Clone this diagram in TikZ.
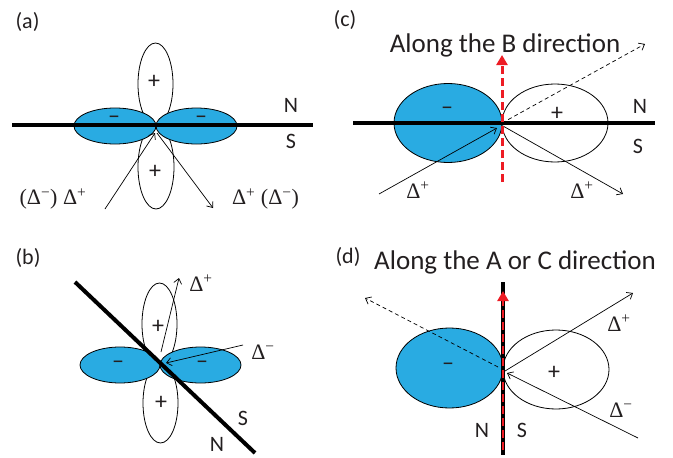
\documentclass[tikz,border=0pt]{standalone}
\usepackage{fontspec}
\setmainfont{Carlito}
\newfontfamily\gapfont{Liberation Serif}
\usetikzlibrary{arrows.meta,shapes.geometric,calc}
\definecolor{lobeblue}{HTML}{29ABE2}
\definecolor{fieldred}{HTML}{ED1C24}
\definecolor{inkgray}{HTML}{231F20}
\newcommand{\gapp}{Δ\textsuperscript{+}}
\newcommand{\gapm}{Δ\textsuperscript{−}}

\begin{document}
\begin{tikzpicture}[x=1pt,y=-1pt,>={Straight Barb[length=5pt,width=8pt]},
 lobe/.style={ellipse,draw,line width=0.8pt,fill=white,inner sep=0pt},
 blobe/.style={lobe,fill=lobeblue},
 wall/.style={line width=4pt},
 ray/.style={->,line width=0.7pt},
 ghost/.style={->,line width=0.7pt,dash pattern=on 4pt off 3pt},
 field/.style={fieldred,line width=3pt,dash pattern=on 8pt off 4pt,
  -{Triangle[length=10pt,width=11pt]}},
 tag/.style={text=inkgray,font=\fontsize{22}{26}\selectfont},
 side/.style={text=inkgray,font=\fontsize{22}{26}\selectfont},
 sign/.style={text=inkgray,font=\fontsize{24}{28}\selectfont},
 gap/.style={text=inkgray,font=\gapfont\fontsize{22}{26}\selectfont},
 title/.style={text=inkgray,font=\fontsize{27}{32}\selectfont}]
\useasboundingbox (0,0) rectangle (673,458);

% (a)
\node[tag] (aTag) at (27.5,22) {(a)};
\node[lobe,minimum width=35pt,minimum height=82pt] (aUp) at (155.5,84) {};
\node[lobe,minimum width=36pt,minimum height=84pt] (aDown) at (156,167) {};
\node[blobe,minimum width=82pt,minimum height=36pt] (aLeft) at (115,126) {};
\node[blobe,minimum width=81pt,minimum height=36pt] (aRight) at (196.5,126) {};
\coordinate (aW) at (12,125);
\coordinate (aE) at (313,125);
\draw[wall] (aW) -- (aE);
\node[sign] (aM1) at (114,120) {–};
\node[sign] (aM2) at (201,120) {–};
\node[sign] (aP1) at (154,82) {+};
\node[sign] (aP2) at (155,172) {+};
\node[side] (aN) at (291,105) {N};
\node[side] (aS) at (291,141) {S};
\coordinate (aIn) at (105,209);
\coordinate (aTip) at (155,133);
\coordinate (aFrom) at (157,133);
\coordinate (aOut) at (213,208);
\draw[ray] (aIn) -- (aTip);
\draw[ray] (aFrom) -- (aOut);
\node[gap] (aG1) at (53,199) {(\gapm) \gapp};
\node[gap] (aG2) at (265.5,199) {\gapp{} (\gapm)};

% (b)
\node[tag] (bTag) at (28,257.5) {(b)};
\node[lobe,minimum width=35pt,minimum height=82pt] (bUp) at (159.5,324) {};
\node[lobe,minimum width=35pt,minimum height=80pt] (bDown) at (160.5,403) {};
\node[blobe,minimum width=80pt,minimum height=36pt] (bLeft) at (120,365) {};
\node[blobe,minimum width=81pt,minimum height=36pt] (bRight) at (200.5,365) {};
\coordinate (bNW) at (75,282);
\coordinate (bSE) at (255,453);
\draw[wall] (bNW) -- (bSE);
\node[sign] (bM1) at (118,365) {–};
\node[sign] (bM2) at (202,365) {–};
\node[sign] (bP1) at (158,327) {+};
\node[sign] (bP2) at (161,403) {+};
\node[side] (bS) at (243,418) {S};
\node[side] (bN) at (217,444) {N};
\coordinate (bFrom) at (161,352);
\coordinate (bOut) at (179,278);
\coordinate (bIn) at (243,345);
\coordinate (bTip) at (166,363);
\draw[ray] (bFrom) -- (bOut);
\draw[ray] (bIn) -- (bTip);
\node[gap] (bG1) at (201,283) {\gapp};
\node[gap] (bG2) at (263,352) {\gapm};

% (c)
\node[tag] (cTag) at (345,20) {(c)};
\node[title] (cTitle) at (505,45.5) {Along the B direction};
\node[blobe,minimum width=108pt,minimum height=79pt] (cLeft) at (448,123) {};
\node[lobe,minimum width=106pt,minimum height=78pt] (cRight) at (555,123) {};
\coordinate (cW) at (353,123);
\coordinate (cE) at (655,123);
\draw[wall] (cW) -- (cE);
\node[sign] (cM) at (447,111) {–};
\node[sign] (cP) at (557,114) {+};
\node[side] (cN) at (640,106) {N};
\node[side] (cS) at (638,146) {S};
\coordinate (cO) at (502,123);
\coordinate (cFar) at (645,44);
\draw[ghost] (cO) -- (cFar);
\coordinate (cIn) at (379,194);
\coordinate (cTip) at (497,128);
\coordinate (cFrom) at (503,126);
\coordinate (cOut) at (623,194);
\draw[ray] (cIn) -- (cTip);
\draw[ray] (cFrom) -- (cOut);
\coordinate (cBot) at (502,182);
\coordinate (cTop) at (502,55);
\draw[field] (cBot) -- (cTop);
\node[gap] (cG1) at (418,190) {\gapp};
\node[gap] (cG2) at (582,190) {\gapp};

% (d)
\node[tag] (dTag) at (348,257) {(d)};
\node[title] (dTitle) at (515,262) {Along the A or C direction};
\node[blobe,minimum width=107pt,minimum height=80pt] (dLeft) at (449.5,368) {};
\node[lobe,minimum width=106pt,minimum height=79pt] (dRight) at (556,369.5) {};
\coordinate (dTop) at (503,282);
\coordinate (dBot) at (503,455);
\draw[wall] (dTop) -- (dBot);
\coordinate (dBase) at (503,450);
\coordinate (dHead) at (503,291);
\draw[field,line width=2.5pt] (dBase) -- (dHead);
\node[sign] (dM) at (448,367) {–};
\node[sign] (dP) at (554,373) {+};
\node[side] (dN) at (482,430) {N};
\node[side] (dS) at (522,430) {S};
\coordinate (dO) at (498,367);
\coordinate (dFar) at (365,298);
\draw[ghost] (dO) -- (dFar);
\coordinate (dFrom) at (505,371);
\coordinate (dOut) at (633,293);
\coordinate (dIn) at (638,438);
\coordinate (dTip) at (507,373);
\draw[ray] (dFrom) -- (dOut);
\draw[ray] (dIn) -- (dTip);
\node[gap] (dG1) at (619,323) {\gapp};
\node[gap] (dG2) at (621,410) {\gapm};
\end{tikzpicture}
\end{document}
